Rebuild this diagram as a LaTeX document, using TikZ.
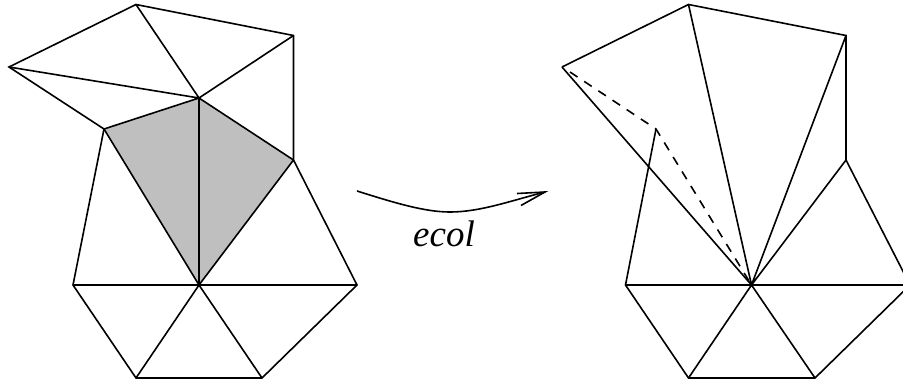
\documentclass[tikz,border=0pt]{standalone}
\usepackage{fontspec}
\setmainfont{Liberation Serif}
\tikzset{
  edge/.style={draw=black,line width=1.6bp,line join=miter},
  thick edge/.style={draw=black,line width=2.2bp},
  dash edge/.style={draw=black,line width=1.6bp,dash pattern=on 9bp off 8bp},
  shade face/.style={fill=black!25,draw=none},
  label text/.style={inner sep=0pt,anchor=base,font=\fontsize{37bp}{42bp}\selectfont\itshape}
}
\begin{document}
\begin{tikzpicture}[x=1bp,y=-1bp]
\useasboundingbox (0,0) rectangle (903,386);
\clip (0,0) rectangle (903,386);
% left mesh
\coordinate (top) at (136,4.5);
\coordinate (ur) at (293.5,35.5);
\coordinate (l) at (9,67);
\coordinate (c) at (199,98);
\coordinate (p) at (104,129);
\coordinate (r) at (293.5,160);
\coordinate (o) at (199,285);
\coordinate (ol) at (73,285);
\coordinate (or) at (357,285);
\coordinate (bl) at (136,378);
\coordinate (br) at (262,378);
\fill[shade face] (p) -- (c) -- (r) -- (o) -- cycle;
\draw[edge] (l) -- (top) -- (ur) -- (r) -- (or) -- (br) -- (bl) -- (ol) -- (p) -- cycle;
\draw[edge] (l) -- (c) (top) -- (c) (ur) -- (c) (p) -- (c) (r) -- (c);
\draw[edge] (p) -- (o) (r) -- (o) (ol) -- (or) (bl) -- (o) (br) -- (o);
\draw[thick edge] (c) -- (o);
% right mesh
\coordinate (top2) at (688.5,4.5);
\coordinate (ur2) at (846,35.5);
\coordinate (l2) at (562,67);
\coordinate (ds) at (570,72);
\coordinate (p2) at (656,129);
\coordinate (r2) at (846,160);
\coordinate (o2) at (751.5,285);
\coordinate (ol2) at (625.5,285);
\coordinate (or2) at (910,285);
\coordinate (bl2) at (688.5,378);
\coordinate (br2) at (815,378);
\draw[edge] (l2) -- (top2) -- (ur2) -- (r2) -- (or2) -- (br2) -- (bl2) -- (ol2) -- (p2);
\draw[edge] (l2) -- (o2) (top2) -- (o2) (ur2) -- (o2) (r2) -- (o2) (ol2) -- (or2) (bl2) -- (o2) (br2) -- (o2);
\draw[dash edge] (ds) -- (p2) -- (o2);
% arrow
\coordinate (as) at (357,191);
\coordinate (at) at (545,192);
\coordinate (h1) at (517,193.5);
\coordinate (h2) at (521,205.5);
\draw[edge] (as) .. controls (395,203) and (425,212) .. (450,212) .. controls (480,212) and (510,201) .. (at);
\draw[edge,line join=miter] (h1) -- (at) -- (h2);
\node[label text] (ecol) at (444,246) {ecol};
\end{tikzpicture}
\end{document}
